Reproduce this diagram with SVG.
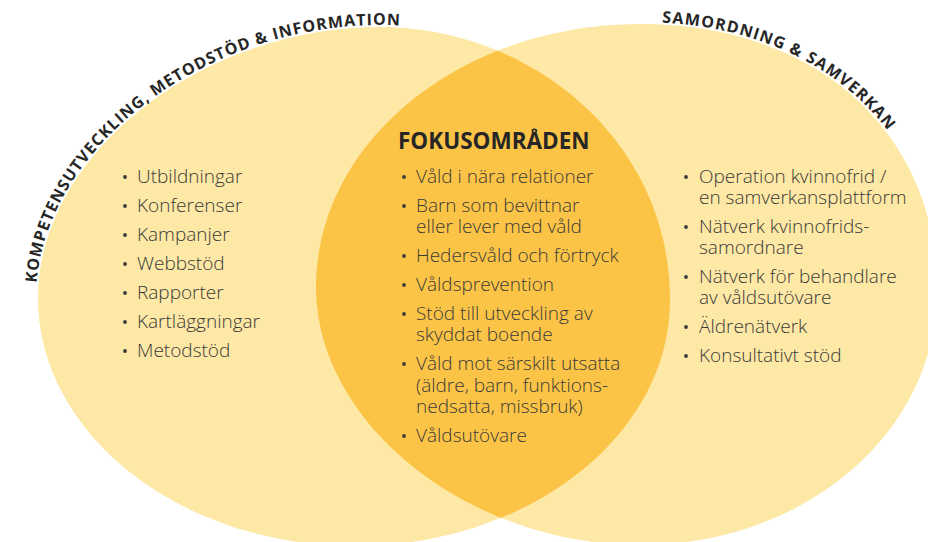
<svg xmlns="http://www.w3.org/2000/svg" xmlns:xlink="http://www.w3.org/1999/xlink" width="928" height="542" viewBox="0 0 928 542">
<style>
.light{fill:#FEE8A5;}
.lens{fill:#FCC446;}
.item{font-family:"Open Sans","Noto Sans","Liberation Sans",sans-serif;font-size:19px;font-weight:300;fill:#3a3a3a;}
.bul{fill:#3a3a3a;}
.title{font-family:"Open Sans","Noto Sans","Liberation Sans",sans-serif;font-size:22.5px;font-weight:bold;fill:#262626;}
.arc{font-family:"Open Sans","Noto Sans","Liberation Sans",sans-serif;font-size:16px;font-weight:bold;fill:#262626;}
</style>
<defs>
<path id="shapeL" d="M 38 298 C 38 154 202 27 380 27 C 530 27 670 140 670 300 C 670 435 529 546 355 546 C 180 546 38 434 38 298 Z"/>
<path id="shapeR" d="M 316 287 C 316 142 461 24 640 24 C 820 24 937 135 937 290 C 937 434 804 545 640 545 C 470 545 316 425 316 287 Z"/>
<clipPath id="clipL"><use xlink:href="#shapeL"/></clipPath>
<path id="arcL" d="M 36 298 C 36 153 201 25 380 25 C 440 25 500 38 545 60"/>
<path id="arcR" d="M 640 22 C 820 22 939 133 939 290"/>
<circle id="dot" r="1.9"/>
</defs>
<g id="set-left">
<use xlink:href="#shapeL" class="light"/>
</g>
<g id="set-right">
<use xlink:href="#shapeR" class="light"/>
</g>
<g id="overlap">
<use xlink:href="#shapeR" class="lens" clip-path="url(#clipL)"/>
</g>
<g id="label-left">
<text class="arc" style="letter-spacing:1px"><textPath xlink:href="#arcL" startOffset="15">KOMPETENSUTVECKLING, METODSTÖD &amp; INFORMATION</textPath></text>
</g>
<g id="label-right">
<text class="arc" style="letter-spacing:1.2px"><textPath xlink:href="#arcR" startOffset="22">SAMORDNING &amp; SAMVERKAN</textPath></text>
</g>
<g id="list-left">
<g class="bul">
<use xlink:href="#dot" x="125" y="177"/><use xlink:href="#dot" x="125" y="206"/><use xlink:href="#dot" x="125" y="235"/><use xlink:href="#dot" x="125" y="264"/><use xlink:href="#dot" x="125" y="293"/><use xlink:href="#dot" x="125" y="322"/><use xlink:href="#dot" x="125" y="351"/>
</g>
<text class="item" x="137" y="183">Utbildningar</text>
<text class="item" x="137" y="212">Konferenser</text>
<text class="item" x="137" y="241">Kampanjer</text>
<text class="item" x="137" y="270">Webbstöd</text>
<text class="item" x="137" y="299">Rapporter</text>
<text class="item" x="137" y="328">Kartläggningar</text>
<text class="item" x="137" y="357">Metodstöd</text>
</g>
<g id="list-center">
<text class="title" x="398" y="149">FOKUSOMRÅDEN</text>
<g class="bul">
<use xlink:href="#dot" x="404" y="177"/><use xlink:href="#dot" x="404" y="206"/><use xlink:href="#dot" x="404" y="256"/><use xlink:href="#dot" x="404" y="285"/><use xlink:href="#dot" x="404" y="314"/><use xlink:href="#dot" x="404" y="364"/><use xlink:href="#dot" x="404" y="436"/>
</g>
<text class="item" x="416" y="183">Våld i nära relationer</text>
<text class="item" x="416" y="212">Barn som bevittnar<tspan x="416" y="233">eller lever med våld</tspan></text>
<text class="item" x="416" y="262">Hedersvåld och förtryck</text>
<text class="item" x="416" y="291">Våldsprevention</text>
<text class="item" x="416" y="320">Stöd till utveckling av<tspan x="416" y="341">skyddat boende</tspan></text>
<text class="item" x="416" y="370">Våld mot särskilt utsatta<tspan x="416" y="392">(äldre, barn, funktions-</tspan><tspan x="416" y="413">nedsatta, missbruk)</tspan></text>
<text class="item" x="416" y="442">Våldsutövare</text>
</g>
<g id="list-right">
<g class="bul">
<use xlink:href="#dot" x="686" y="177"/><use xlink:href="#dot" x="686" y="227"/><use xlink:href="#dot" x="686" y="277"/><use xlink:href="#dot" x="686" y="327"/><use xlink:href="#dot" x="686" y="356"/>
</g>
<text class="item" x="699" y="183">Operation kvinnofrid /<tspan x="699" y="204">en samverkansplattform</tspan></text>
<text class="item" x="699" y="233">Nätverk kvinnofrids-<tspan x="699" y="254">samordnare</tspan></text>
<text class="item" x="699" y="283">Nätverk för behandlare<tspan x="699" y="304">av våldsutövare</tspan></text>
<text class="item" x="699" y="333">Äldrenätverk</text>
<text class="item" x="699" y="362">Konsultativt stöd</text>
</g>
</svg>
